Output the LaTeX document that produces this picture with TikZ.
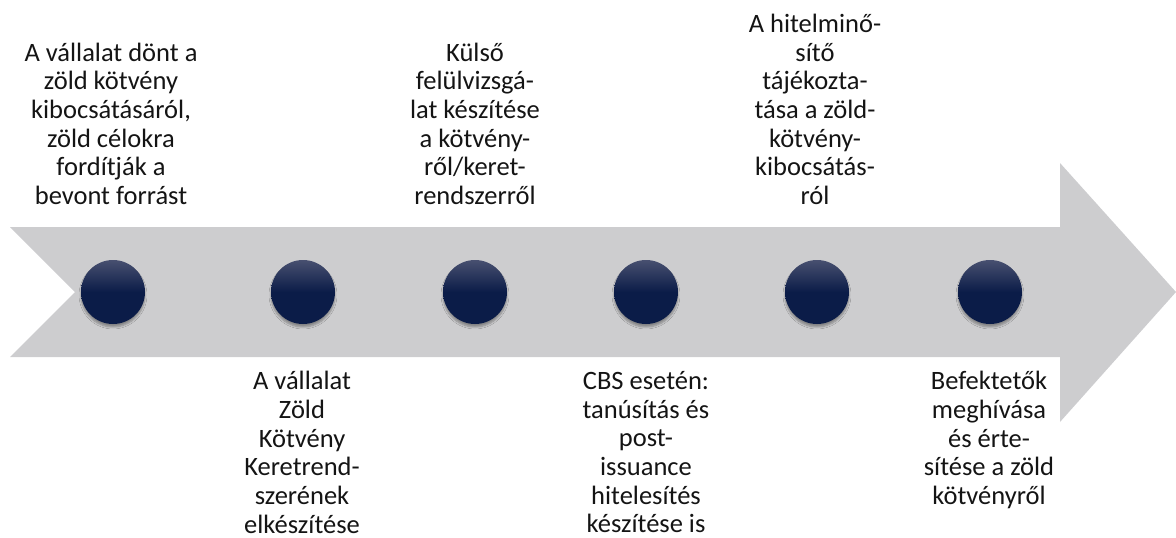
\documentclass[tikz,border=0pt]{standalone}
\usepackage{fontspec}
\setmainfont{Carlito}
\usetikzlibrary{shadows.blur}
\definecolor{arrowgray}{RGB}{205,205,207}
\definecolor{navy}{RGB}{11,28,72}
\definecolor{navytop}{RGB}{72,80,112}
\definecolor{txtcol}{RGB}{20,20,20}
\tikzset{
  dot/.style={circle, minimum size=64pt, inner sep=0pt,
    top color=navytop, bottom color=navy, middle color=navy,
    blur shadow={shadow xshift=0pt, shadow yshift=-3pt, shadow opacity=35, shadow blur steps=6}},
  txt/.style={align=center, inner sep=0pt, text=txtcol, font=\fontsize{26.5}{28.7}\selectfont},
  toptxt/.style={txt, anchor=south},
  bottxt/.style={txt, anchor=north}
}
\begin{document}
\begin{tikzpicture}[x=1pt,y=-1pt]
\useasboundingbox (0,0) rectangle (1176,538);
\fill[arrowgray] (10,227) -- (1060,227) -- (1060,163) -- (1176,292) -- (1060,422) -- (1060,357) -- (10,357) -- (75,292) -- cycle;
\node[dot] (c1) at (113,292) {};
\node[dot] (c2) at (303,292) {};
\node[dot] (c3) at (475,292) {};
\node[dot] (c4) at (646,292) {};
\node[dot] (c5) at (817,292) {};
\node[dot] (c6) at (990,292) {};
\node[toptxt] (t1) at (111,205) {A vállalat dönt a\\zöld kötvény\\kibocsátásáról,\\zöld célokra\\fordítják a\\bevont forrást};
\node[toptxt] (t3) at (475,205) {Külső\\felülvizsgá-\\lat készítése\\a kötvény-\\ről/keret-\\rendszerről};
\node[toptxt] (t5) at (815,205) {A hitelminő-\\sítő\\tájékozta-\\tása a zöld-\\kötvény-\\kibocsátás-\\ról};
\node[bottxt] (b2) at (302,371) {A vállalat\\Zöld\\Kötvény\\Keretrend-\\szerének\\elkészítése};
\node[bottxt] (b4) at (646,371) {CBS esetén:\\tanúsítás és\\post-\\issuance\\hitelesítés\\készítése is};
\node[bottxt] (b6) at (989,371) {Befektetők\\meghívása\\és érte-\\sítése a zöld\\kötvényről};
\end{tikzpicture}
\end{document}
